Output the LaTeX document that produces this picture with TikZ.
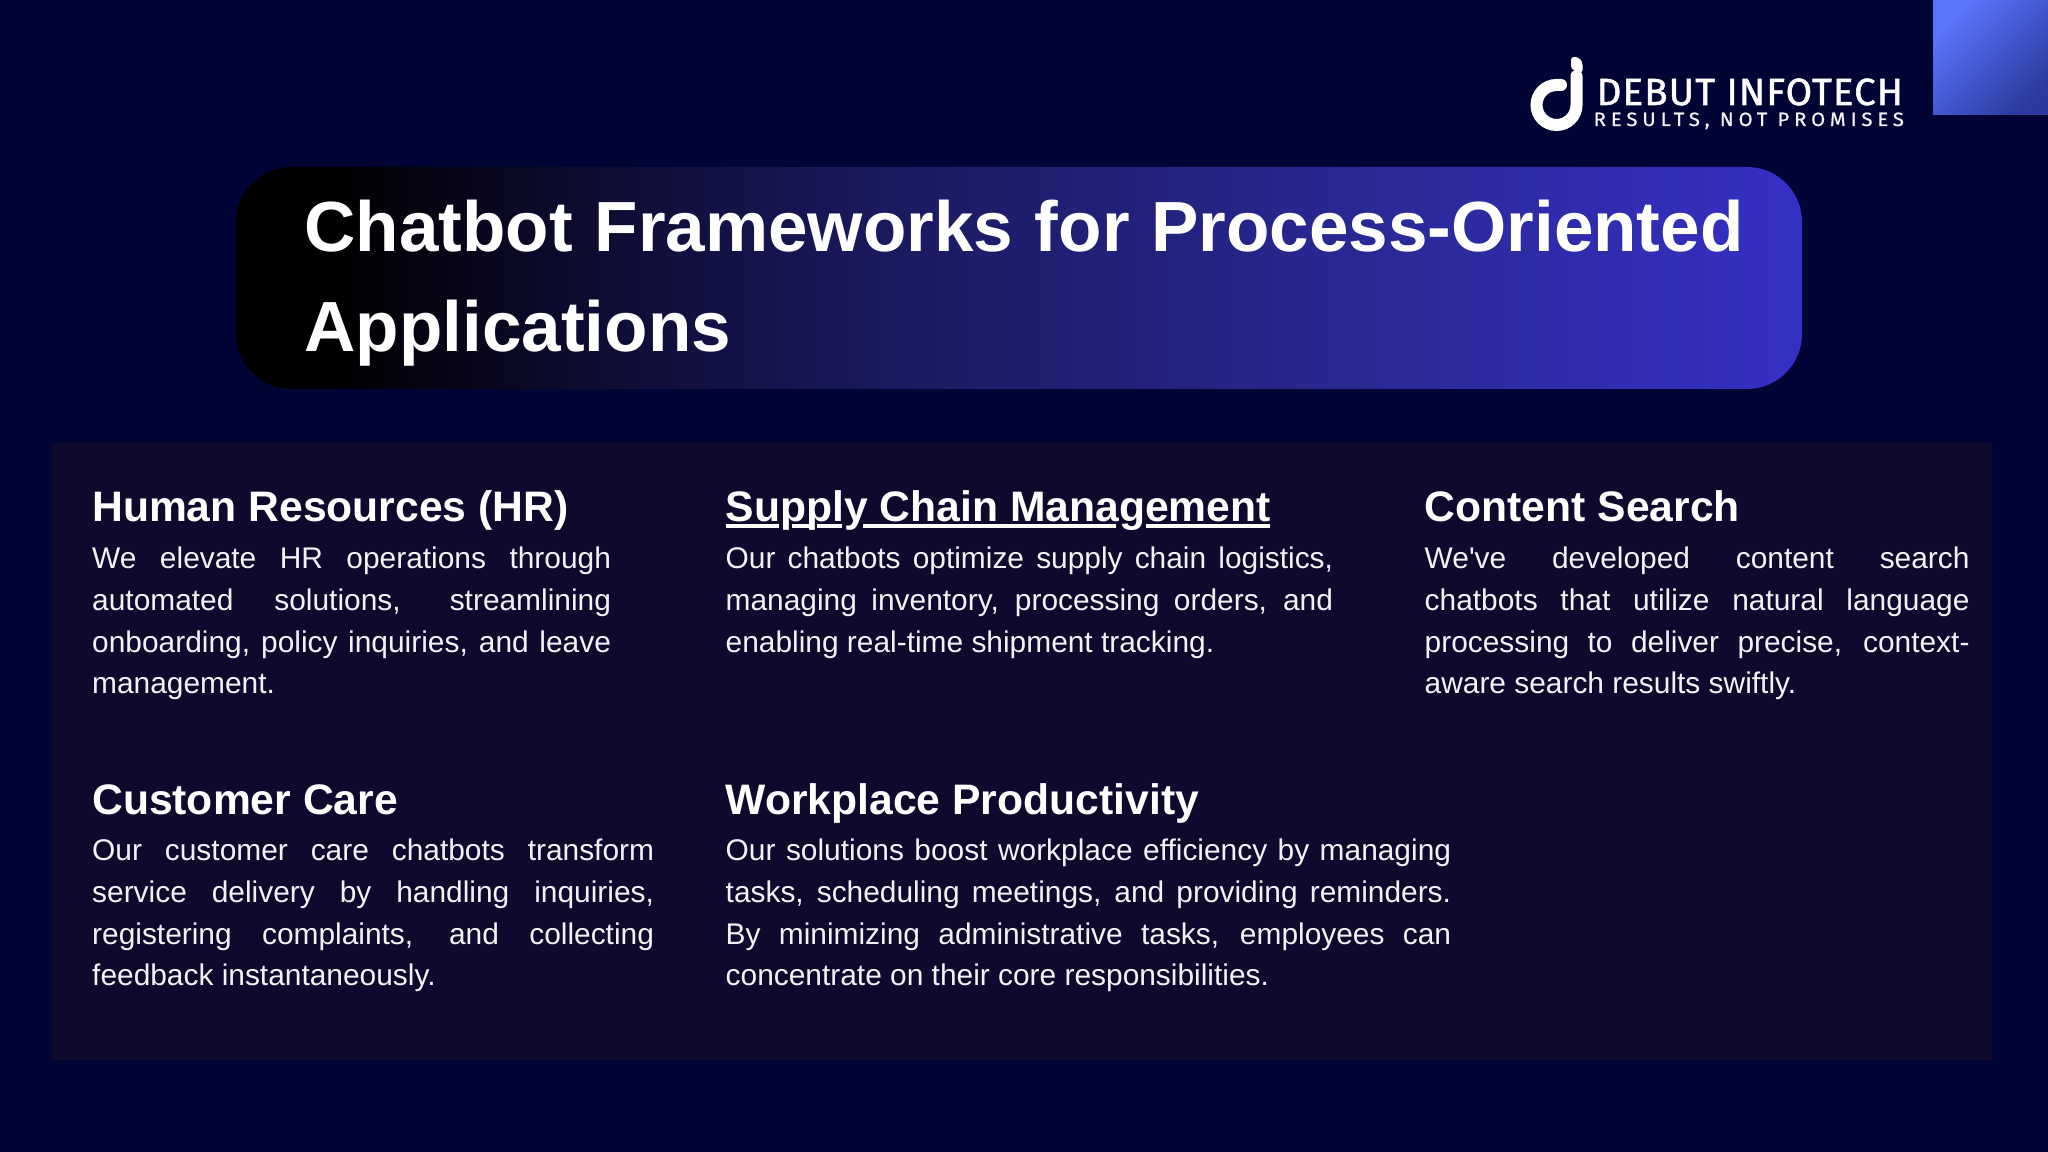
\documentclass[tikz,border=0pt]{standalone}
\usepackage{fontspec}
\setmainfont{Liberation Sans}[Ligatures=TeXOff]
\newfontfamily\logofont[LetterSpace=3,FakeBold=1.4]{Fira Sans}
\newfontfamily\logosubfont[LetterSpace=24,FakeBold=0.7]{Fira Sans}
\usetikzlibrary{shapes,arrows}

\definecolor{bgnavy}{HTML}{000536}
\definecolor{panelnavy}{HTML}{0D0A2D}
\definecolor{barone}{HTML}{0C0A2A}
\definecolor{barmid}{HTML}{1A1A60}
\definecolor{barthree}{HTML}{2A2A9A}
\definecolor{barright}{HTML}{3530C5}
\definecolor{cornerlight}{HTML}{5A76FF}
\definecolor{cornerdark}{HTML}{2C3AA0}
\definecolor{bodywhite}{HTML}{F2F2F6}

\pgfdeclarehorizontalshading{barshade}{100bp}{
  color(0bp)=(black); color(28bp)=(black); color(35bp)=(barone); color(46bp)=(barmid); color(62.5bp)=(barthree); color(75bp)=(barright); color(100bp)=(barright)}

\tikzset{
  headtext/.style={anchor=base west,inner sep=0pt,text=white,font=\fontsize{12.13pt}{14pt}\selectfont\bfseries},
  bodytext/.style={anchor=north west,inner sep=0pt,text=bodywhite,align=justify,font=\fontsize{8.5pt}{11.9pt}\selectfont},
  titletext/.style={anchor=base west,inner sep=0pt,text=white,font=\fontsize{20.2pt}{24pt}\selectfont\bfseries},
  underrule/.style={white,line width=0.04cm}
}

\begin{document}
\begin{tikzpicture}[x=0.01cm,y=-0.01cm]
\useasboundingbox (0,0) rectangle (2048,1152);
\fill[bgnavy] (0,0) rectangle (2048,1152);%background
\path[top color=cornerlight,bottom color=cornerdark,shading angle=45] (1933,0) rectangle (2048,115);%corner
\fill[panelnavy] (52,443) rectangle (1992,1060);%panel
\path[shading=barshade,rounded corners=0.55cm] (236,167) rectangle (1802,389);%title bar

%logo
\draw[white,line width=0.12cm,line cap=round] (1576.5,76) -- (1576.5,105) arc (0:270:20) -- (1561,85);
\fill[white,rounded corners=0.03cm] (1571,57) -- (1578,57) -- (1582.5,62) -- (1582.5,73) -- (1571,69) -- cycle;
\node[anchor=base west,inner sep=0pt,text=white] (logoname) at (1596,105) {\resizebox{3.06cm}{0.265cm}{\logofont DEBUT INFOTECH}};
\node[anchor=base west,inner sep=0pt,text=bodywhite] (logotag) at (1593,126) {\resizebox{3.1cm}{0.135cm}{\logosubfont RESULTS, NOT PROMISES}};

%title
\node[titletext] (titleone) at (304,252) {Chatbot\hspace{0.02cm} Frameworks\hspace{0.02cm} for\hspace{0.02cm} Process-Oriented};
\node[titletext] (titletwo) at (304,352) {Applications};

%headings
\node[headtext] (hrhead) at (91.5,522) {Human Resources (HR)};
\node[headtext] (supplyhead) at (725,522) {Supply Chain Management};
\node[headtext] (contenthead) at (1424,522) {Content Search};
\node[headtext] (carehead) at (91.5,814) {Customer Care};
\node[headtext] (workhead) at (725,814) {Workplace Productivity};

%underline, broken at p, p, y and g
\draw[underrule] (726,526) -- (779,526);
\draw[underrule] (792,526) -- (809,526);
\draw[underrule] (817,526) -- (842,526);
\draw[underrule] (863,526) -- (1116,526);
\draw[underrule] (1146,526) -- (1270,526);

%paragraphs
\node[bodytext,text width=5.185cm] (hrbody) at (91.5,546) {We elevate HR operations through\linebreak automated solutions, streamlining\linebreak onboarding, policy inquiries, and leave\linebreak management.};
\node[bodytext,text width=6.07cm] (supplybody) at (725,546) {Our chatbots optimize supply chain logistics,\linebreak managing inventory, processing orders, and\linebreak enabling real-time shipment tracking.};
\node[bodytext,text width=5.445cm] (contentbody) at (1424,546) {We've developed content search\linebreak chatbots that utilize natural language\linebreak processing to deliver precise, context-\linebreak aware search results swiftly.};
\node[bodytext,text width=5.615cm] (carebody) at (91.5,838) {Our customer care chatbots transform\linebreak service delivery by handling inquiries,\linebreak registering complaints, and collecting\linebreak feedback instantaneously.};
\node[bodytext,text width=7.25cm] (workbody) at (725,838) {Our solutions boost workplace efficiency by managing\linebreak tasks, scheduling meetings, and providing reminders.\linebreak By minimizing administrative tasks, employees can\linebreak concentrate on their core responsibilities.};
\end{tikzpicture}
\end{document}
